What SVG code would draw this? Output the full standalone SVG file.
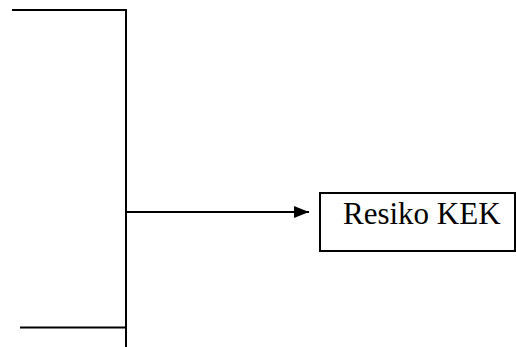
<svg xmlns="http://www.w3.org/2000/svg" width="516" height="347" viewBox="0 0 516 347">
<style>
.ln{stroke:#000;stroke-width:2;fill:none}
.box{stroke:#000;stroke-width:2;fill:#fff}
.lbl{font-family:"Liberation Serif","Times New Roman",serif;font-size:31px;fill:#000}
</style>
<defs>
<marker id="ah" markerWidth="15" markerHeight="12" refX="15" refY="6" orient="auto" markerUnits="userSpaceOnUse">
<path d="M0,0 L15,6 L0,12 Z" fill="#000"/>
</marker>
</defs>
<g id="connectors">
<path class="ln" d="M12,10 H126 V347"/>
<path class="ln" d="M20,327.5 H126"/>
<path class="ln" d="M126,212 H309" marker-end="url(#ah)"/>
</g>
<g id="node-resiko">
<rect class="box" x="320" y="193" width="195" height="58"/>
<text class="lbl" x="343" y="224">Resiko KEK</text>
</g>
</svg>
